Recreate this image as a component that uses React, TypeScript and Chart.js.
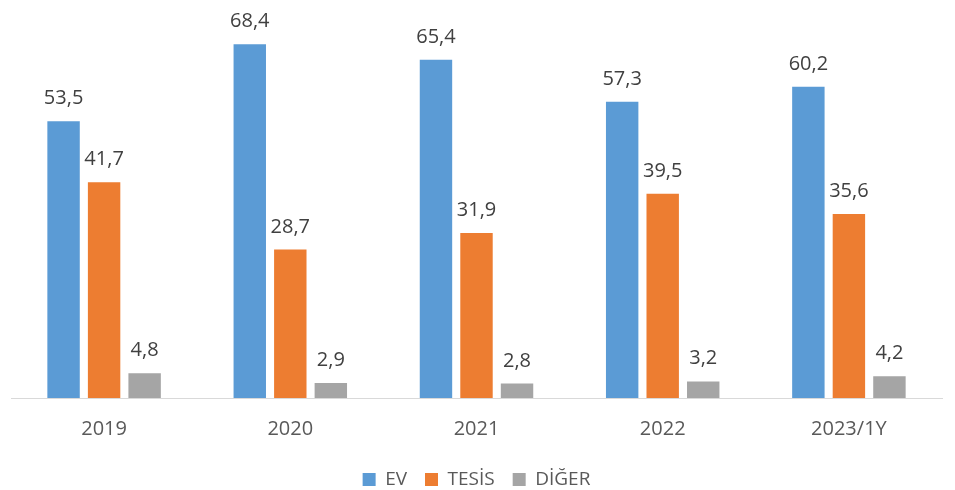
import React, { useEffect, useRef } from "react";
import { Chart, registerables } from "chart.js";

Chart.register(...registerables);

const categories = ["2019", "2020", "2021", "2022", "2023/1Y"];
const evValues = [53.5, 68.4, 65.4, 57.3, 60.2];
const tesisValues = [41.7, 28.7, 31.9, 39.5, 35.6];
const digerValues = [4.8, 2.9, 2.8, 3.2, 4.2];
const seriesNames = ["EV", "TESİS", "DİĞER"];
const seriesColors = ["#5B9BD5", "#ED7D31", "#A5A5A5"];

const FONT = "'Open Sans', 'DejaVu Sans', sans-serif";

const dataLabelPlugin = {
  id: "dataLabels",
  afterDatasetsDraw(chart: any) {
    const ctx = chart.ctx;
    ctx.save();
    ctx.font = `20px ${FONT}`;
    ctx.fillStyle = "#404040";
    ctx.textAlign = "center";
    ctx.textBaseline = "alphabetic";
    chart.data.datasets.forEach((ds: any, i: number) => {
      const meta = chart.getDatasetMeta(i);
      meta.data.forEach((bar: any, j: number) => {
        const v = ds.data[j] as number;
        const txt = v.toFixed(1).replace(".", ",");
        ctx.fillText(txt, bar.x, bar.y - 17);
      });
    });
    ctx.restore();
  },
};

export default function App() {
  const ref = useRef<HTMLCanvasElement | null>(null);
  useEffect(() => {
    if (!ref.current) return;
    const values = [evValues, tesisValues, digerValues];
    const chart = new Chart(ref.current, {
      type: "bar",
      data: {
        labels: categories,
        datasets: values.map((d, i) => ({
          label: seriesNames[i],
          data: d,
          backgroundColor: seriesColors[i],
          borderWidth: 0,
          barPercentage: 0.8,
          categoryPercentage: 0.653,
        })),
      },
      options: {
        responsive: false,
        animation: false,
        layout: { padding: { top: 36, left: 11, right: 13, bottom: 4 } },
        plugins: {
          legend: {
            position: "bottom",
            labels: {
              boxWidth: 13,
              boxHeight: 13,
              padding: 18,
              color: "#595959",
              font: { family: FONT, size: 19 },
            },
          },
          tooltip: { enabled: false },
        },
        scales: {
          x: {
            grid: { display: false },
            border: { color: "#D9D9D9", width: 1 },
            ticks: {
              color: "#595959",
              font: { family: FONT, size: 20 },
              padding: 11,
            },
          },
          y: {
            display: false,
            min: 0,
            max: 70,
          },
        },
      },
      plugins: [dataLabelPlugin],
    });
    return () => chart.destroy();
  }, []);
  return (
    <div style={{ position: "absolute", left: 0, top: 0, width: 955, height: 490, overflow: "hidden", background: "#fff" }}>
      <canvas ref={ref} width={955} height={503} style={{ display: "block" }} />
    </div>
  );
}
